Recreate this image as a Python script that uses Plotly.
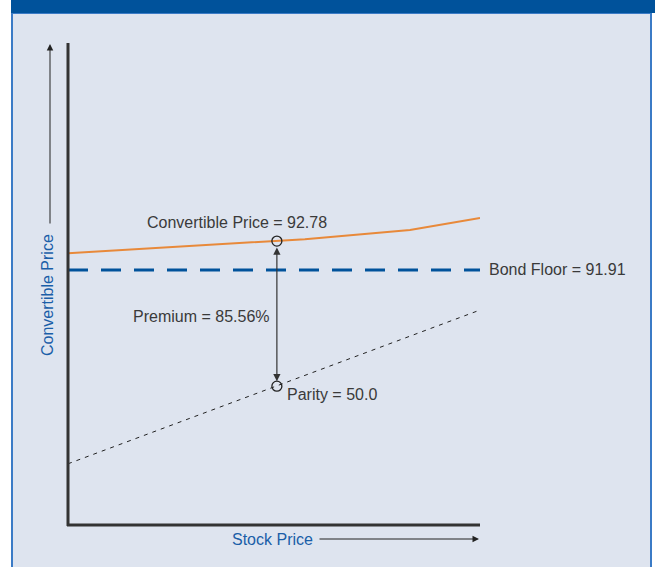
import plotly.graph_objects as go

# Schematic data (arbitrary units: stock price 0-100, convertible price 0-100)
stock_price = [0, 50.7, 57.5, 83.0, 100]
convertible_price = [56.4, 58.9, 59.3, 61.2, 63.7]

bond_floor_x = [0, 101]
bond_floor_y = [52.9, 52.9]

parity_x = [0, 100]
parity_y = [12.7, 44.6]

point_x = 50.7
conv_point_y = 58.9
parity_point_y = 28.8

labels = {
    "conv": "Convertible Price = 92.78",
    "floor": "Bond Floor = 91.91",
    "premium": "Premium = 85.56%",
    "parity": "Parity = 50.0",
    "xaxis": "Stock Price",
    "yaxis": "Convertible Price",
}

W, H = 655, 567
L, R, T, B = 68, 480, 43, 525  # plot area in pixels

def px_x(p):
    return (p - L) / (R - L)

def px_y(p):
    return (B - p) / (B - T)

TXT = "#3a3a3a"
BLUE_TXT = "#1a5ea8"
FONT = "Liberation Sans, Arial, sans-serif"
FS = 16

def label(text, x, y, xanchor="center", color=TXT, angle=0):
    return dict(x=px_x(x), y=px_y(y), xref="paper", yref="paper", text=text,
                showarrow=False, xanchor=xanchor, yanchor="middle",
                textangle=angle, font=dict(family=FONT, size=FS, color=color))

fig = go.Figure()

fig.add_trace(go.Scatter(x=parity_x, y=parity_y, mode="lines",
                         line=dict(color="#222222", width=1, dash="4px,5px"),
                         hoverinfo="skip"))
fig.add_trace(go.Scatter(x=bond_floor_x, y=bond_floor_y, mode="lines",
                         line=dict(color="#00529b", width=3, dash="20px,13px"),
                         hoverinfo="skip"))
fig.add_trace(go.Scatter(x=stock_price, y=convertible_price, mode="lines",
                         line=dict(color="#e8893a", width=2),
                         hoverinfo="skip"))
fig.add_trace(go.Scatter(x=[point_x, point_x], y=[conv_point_y, parity_point_y],
                         mode="markers",
                         marker=dict(symbol="circle-open", size=10,
                                     color="#222222", line=dict(width=1.3)),
                         hoverinfo="skip"))

annotations = [
    # premium double arrow
    dict(x=point_x, y=parity_point_y, ax=point_x, ay=conv_point_y,
         xref="x", yref="y", axref="x", ayref="y", text="",
         showarrow=True, arrowhead=2, arrowsize=1.2, arrowwidth=1.2,
         arrowside="end+start", standoff=5, startstandoff=5,
         arrowcolor="#333333"),
    label(labels["conv"], 237, 222),
    label(labels["floor"], 487, 269, xanchor="left"),
    label(labels["premium"], 272, 316, xanchor="right"),
    label(labels["parity"], 285, 394, xanchor="left"),
    label(labels["xaxis"], 272, 539, color=BLUE_TXT),
    label(labels["yaxis"], 47, 295, color=BLUE_TXT, angle=-90),
    # axis arrows
    dict(x=px_x(479), y=px_y(539), xref="paper", yref="paper",
         ax=-161, ay=0, axref="pixel", ayref="pixel", text="",
         showarrow=True, arrowhead=2, arrowsize=1.3, arrowwidth=1,
         arrowcolor="#222222"),
    dict(x=px_x(50), y=px_y(44), xref="paper", yref="paper",
         ax=0, ay=181, axref="pixel", ayref="pixel", text="",
         showarrow=True, arrowhead=2, arrowsize=1.3, arrowwidth=1,
         arrowcolor="#222222"),
]

shapes = [
    # panel
    dict(type="rect", xref="paper", yref="paper", layer="below",
         x0=px_x(12), x1=px_x(651), y0=px_y(13), y1=px_y(570),
         fillcolor="#dee4ef", line=dict(color="#3b7bc6", width=2)),
    # header band
    dict(type="rect", xref="paper", yref="paper", layer="below",
         x0=px_x(11), x1=px_x(660), y0=px_y(-5), y1=px_y(13),
         fillcolor="#00529b", line=dict(width=0)),
    # axes
    dict(type="line", xref="paper", yref="paper",
         x0=0, x1=0, y0=px_y(B + 1), y1=1, line=dict(color="#333333", width=3)),
    dict(type="line", xref="paper", yref="paper",
         x0=px_x(L - 1), x1=1, y0=0, y1=0, line=dict(color="#333333", width=3)),
]

fig.update_layout(
    width=W, height=H,
    margin=dict(l=L, r=W - R, t=T, b=H - B, pad=0),
    paper_bgcolor="white",
    plot_bgcolor="rgba(0,0,0,0)",
    showlegend=False,
    xaxis=dict(range=[0, 100], visible=False, fixedrange=True),
    yaxis=dict(range=[0, 100], visible=False, fixedrange=True),
    annotations=annotations,
    shapes=shapes,
    font=dict(family=FONT),
)

fig.write_html("out.html")
